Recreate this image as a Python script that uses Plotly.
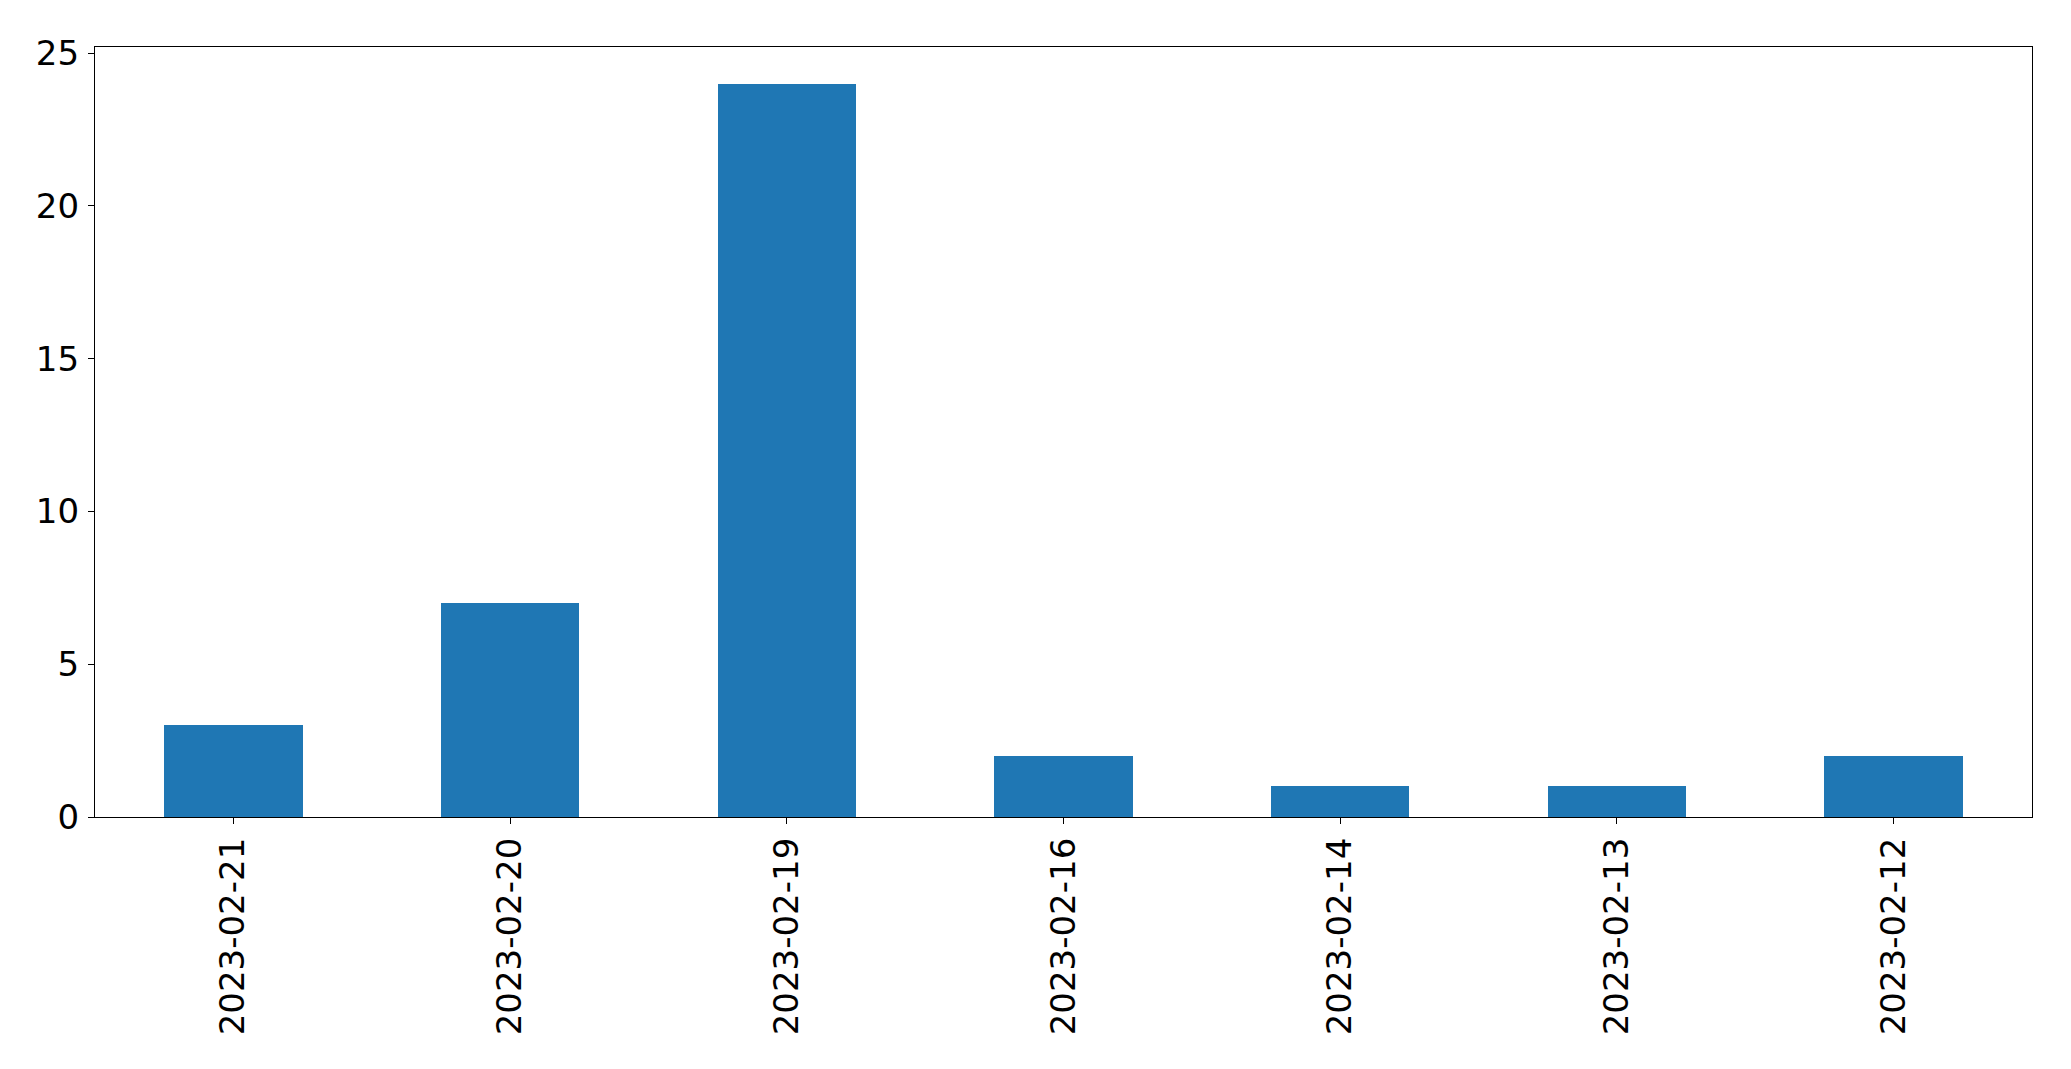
import plotly.graph_objects as go

categories = ["2023-02-21", "2023-02-20", "2023-02-19", "2023-02-16", "2023-02-14", "2023-02-13", "2023-02-12"]
counts = [3, 7, 24, 2, 1, 1, 2]
y_ticks = [0, 5, 10, 15, 20, 25]

fig = go.Figure(go.Bar(x=list(range(len(categories))), y=counts, width=0.5,
                       marker=dict(color="#1f77b4", line=dict(width=0))))

font = dict(family="DejaVu Sans", size=34, color="black")
fig.update_layout(
    width=2071, height=1069,
    margin=dict(l=95, r=39, t=47, b=252),
    paper_bgcolor="white", plot_bgcolor="white",
    showlegend=False,
    font=font,
    bargap=0,
)
fig.update_xaxes(
    range=[-0.5, len(categories) - 0.5],
    tickmode="array", tickvals=list(range(len(categories))), ticktext=categories,
    tickangle=-90, ticks="outside", ticklen=6, tickwidth=1.3, tickcolor="black",
    showline=True, linecolor="black", linewidth=1.3, mirror=True,
    showgrid=False, zeroline=False, tickfont=font, ticklabelstandoff=0,
)
fig.update_yaxes(
    range=[0, 25.2],
    tickmode="array", tickvals=y_ticks, ticktext=[str(v) for v in y_ticks],
    ticks="outside", ticklen=6, tickwidth=1.3, tickcolor="black",
    showline=True, linecolor="black", linewidth=1.3, mirror=True,
    showgrid=False, zeroline=False, tickfont=font, ticklabelstandoff=2,
)
fig.write_html("out.html", config={"displayModeBar": False},
               post_script="document.body.style.margin='0';document.body.style.overflow='hidden';")
